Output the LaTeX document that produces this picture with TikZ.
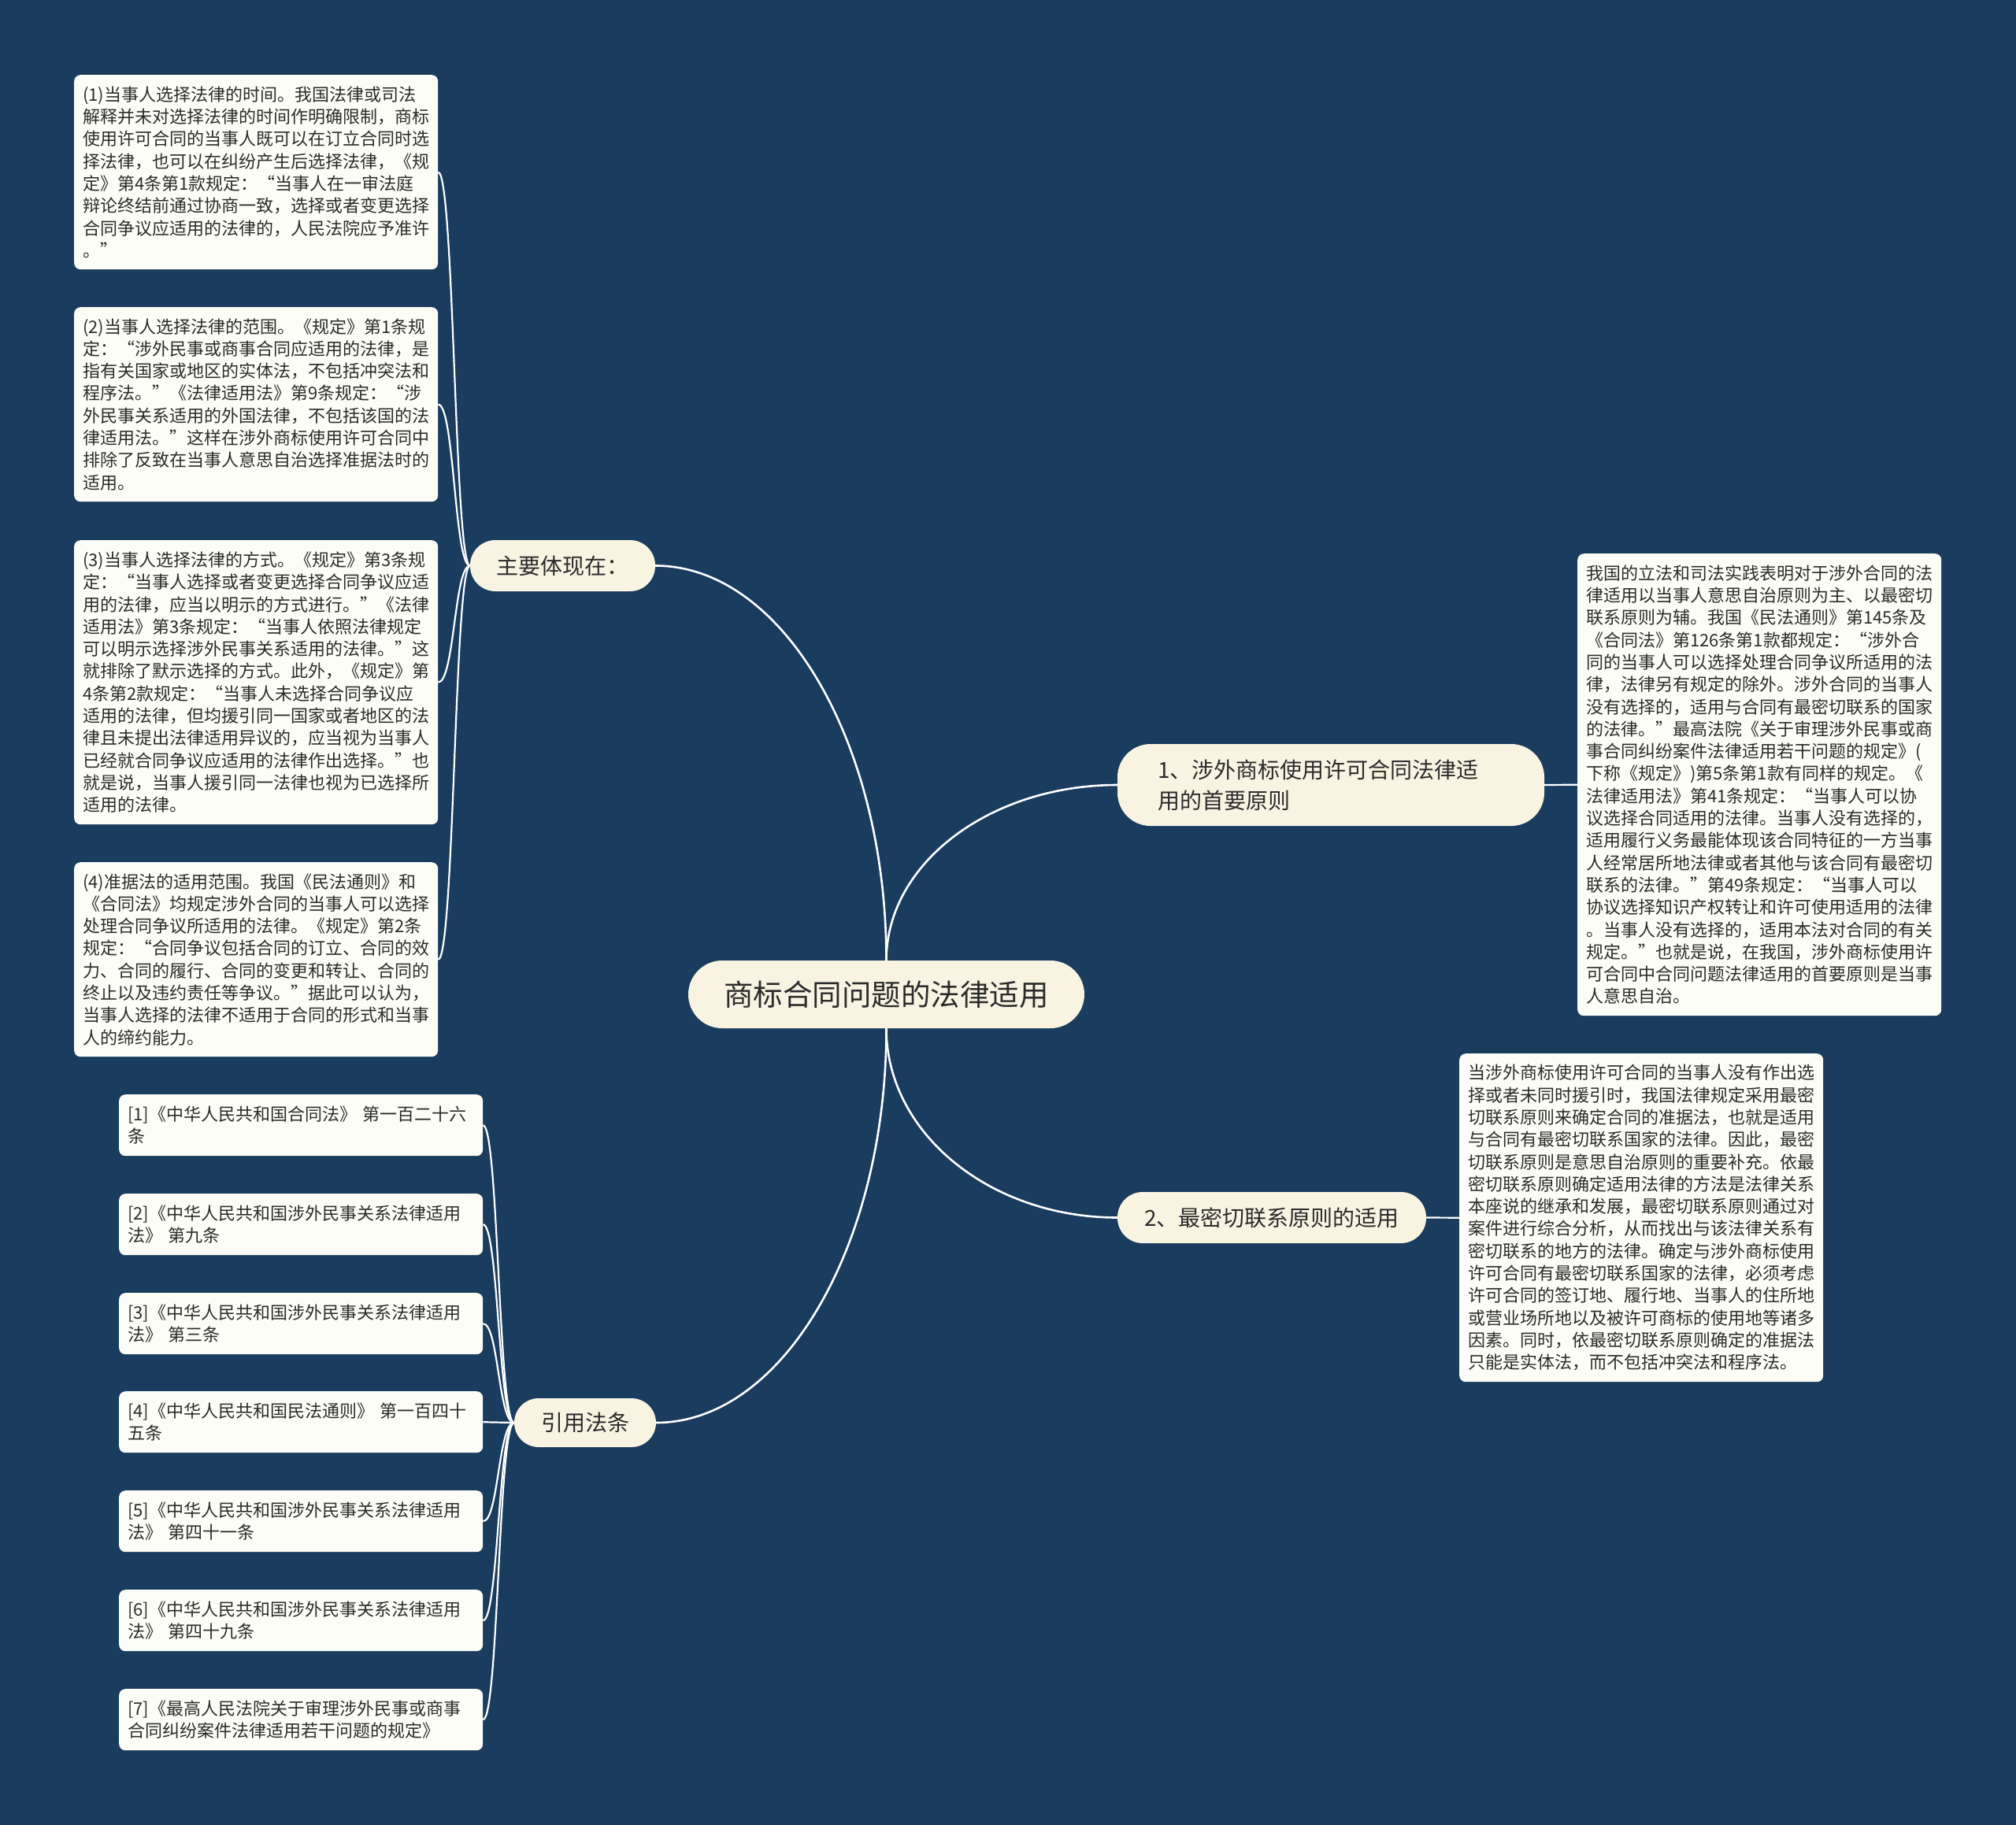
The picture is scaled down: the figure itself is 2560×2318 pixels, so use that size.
\documentclass[tikz,border=0pt]{standalone}
\usepackage{fontspec}
\setmainfont{Noto Sans CJK SC}
\definecolor{bgc}{HTML}{1A3C5E}
\definecolor{pillc}{HTML}{F9F4E2}
\definecolor{boxc}{HTML}{FDFDF7}
\definecolor{txtc}{HTML}{2B2B2B}
\tikzset{
  leafbox/.style={fill=boxc, rounded corners=8pt, anchor=north west, align=left,
    text width=440pt, inner xsep=11pt, inner ysep=0pt, text=txtc,
    font=\fontsize{22}{28.3}\selectfont},
  pill/.style={fill=pillc, inner sep=0pt, text=txtc, anchor=center},
  mainconn/.style={draw=white, line width=2.6pt},
  subconn/.style={draw=white, line width=2.2pt},
}
\begin{document}
\begin{tikzpicture}[x=1pt,y=-1pt]
\fill[bgc] (0,0) rectangle (2560,2318);
\useasboundingbox (0,0) rectangle (2560,2318);

% central and branch nodes
\node[pill, minimum width=503pt, minimum height=86pt, rounded corners=43pt,
  font=\fontsize{37.5}{45}\selectfont] (main) at (1125.5,1263) {商标合同问题的法律适用};
\node[pill, minimum width=235pt, minimum height=65pt, rounded corners=32pt,
  font=\fontsize{28}{36}\selectfont] (z) at (714.5,718.5) {主要体现在：};
\node[pill, minimum width=180pt, minimum height=62pt, rounded corners=31pt,
  font=\fontsize{28}{36}\selectfont] (y) at (743,1807) {引用法条};
\node[pill, minimum width=542pt, minimum height=104pt, rounded corners=42pt,
  text width=440pt, inner xsep=51pt, align=left,
  font=\fontsize{28}{39}\selectfont] (b1) at (1690,997) {1、涉外商标使用许可合同法律适\\用的首要原则};
\node[pill, minimum width=392pt, minimum height=65pt, rounded corners=32pt,
  font=\fontsize{28}{36}\selectfont] (b2) at (1615,1546.5) {2、最密切联系原则的适用};

% left detail boxes
\node[leafbox, minimum height=247pt] (L1) at (94,95) {(1)当事人选择法律的时间。我国法律或司法\\解释并未对选择法律的时间作明确限制，商标\\使用许可合同的当事人既可以在订立合同时选\\择法律，也可以在纠纷产生后选择法律，《规\\定》第4条第1款规定：“当事人在一审法庭\\辩论终结前通过协商一致，选择或者变更选择\\合同争议应适用的法律的，人民法院应予准许\\。”};
\node[leafbox, minimum height=247pt] (L2) at (94,390) {(2)当事人选择法律的范围。《规定》第1条规\\定：“涉外民事或商事合同应适用的法律，是\\指有关国家或地区的实体法，不包括冲突法和\\程序法。”《法律适用法》第9条规定：“涉\\外民事关系适用的外国法律，不包括该国的法\\律适用法。”这样在涉外商标使用许可合同中\\排除了反致在当事人意思自治选择准据法时的\\适用。};
\node[leafbox, minimum height=361pt] (L3) at (94,686) {(3)当事人选择法律的方式。《规定》第3条规\\定：“当事人选择或者变更选择合同争议应适\\用的法律，应当以明示的方式进行。”《法律\\适用法》第3条规定：“当事人依照法律规定\\可以明示选择涉外民事关系适用的法律。”这\\就排除了默示选择的方式。此外，《规定》第\\4条第2款规定：“当事人未选择合同争议应\\适用的法律，但均援引同一国家或者地区的法\\律且未提出法律适用异议的，应当视为当事人\\已经就合同争议应适用的法律作出选择。”也\\就是说，当事人援引同一法律也视为已选择所\\适用的法律。};
\node[leafbox, minimum height=247pt] (L4) at (94,1095) {(4)准据法的适用范围。我国《民法通则》和\\《合同法》均规定涉外合同的当事人可以选择\\处理合同争议所适用的法律。《规定》第2条\\规定：“合同争议包括合同的订立、合同的效\\力、合同的履行、合同的变更和转让、合同的\\终止以及违约责任等争议。”据此可以认为，\\当事人选择的法律不适用于合同的形式和当事\\人的缔约能力。};

% citation boxes
\node[leafbox, minimum height=78pt] (c1) at (151,1390) {[1]《中华人民共和国合同法》 第一百二十六\\条};
\node[leafbox, minimum height=78pt] (c2) at (151,1516) {[2]《中华人民共和国涉外民事关系法律适用\\法》 第九条};
\node[leafbox, minimum height=78pt] (c3) at (151,1642) {[3]《中华人民共和国涉外民事关系法律适用\\法》 第三条};
\node[leafbox, minimum height=78pt] (c4) at (151,1767) {[4]《中华人民共和国民法通则》 第一百四十\\五条};
\node[leafbox, minimum height=78pt] (c5) at (151,1893) {[5]《中华人民共和国涉外民事关系法律适用\\法》 第四十一条};
\node[leafbox, minimum height=78pt] (c6) at (151,2019) {[6]《中华人民共和国涉外民事关系法律适用\\法》 第四十九条};
\node[leafbox, minimum height=78pt] (c7) at (151,2145) {[7]《最高人民法院关于审理涉外民事或商事\\合同纠纷案件法律适用若干问题的规定》};

% right detail boxes
\node[leafbox, minimum height=587pt] (r1) at (2003,703) {我国的立法和司法实践表明对于涉外合同的法\\律适用以当事人意思自治原则为主、以最密切\\联系原则为辅。我国《民法通则》第145条及\\《合同法》第126条第1款都规定：“涉外合\\同的当事人可以选择处理合同争议所适用的法\\律，法律另有规定的除外。涉外合同的当事人\\没有选择的，适用与合同有最密切联系的国家\\的法律。”最高法院《关于审理涉外民事或商\\事合同纠纷案件法律适用若干问题的规定》(\\下称《规定》)第5条第1款有同样的规定。《\\法律适用法》第41条规定：“当事人可以协\\议选择合同适用的法律。当事人没有选择的，\\适用履行义务最能体现该合同特征的一方当事\\人经常居所地法律或者其他与该合同有最密切\\联系的法律。”第49条规定：“当事人可以\\协议选择知识产权转让和许可使用适用的法律\\。当事人没有选择的，适用本法对合同的有关\\规定。”也就是说，在我国，涉外商标使用许\\可合同中合同问题法律适用的首要原则是当事\\人意思自治。};
\node[leafbox, minimum height=417pt] (r2) at (1853,1338) {当涉外商标使用许可合同的当事人没有作出选\\择或者未同时援引时，我国法律规定采用最密\\切联系原则来确定合同的准据法，也就是适用\\与合同有最密切联系国家的法律。因此，最密\\切联系原则是意思自治原则的重要补充。依最\\密切联系原则确定适用法律的方法是法律关系\\本座说的继承和发展，最密切联系原则通过对\\案件进行综合分析，从而找出与该法律关系有\\密切联系的地方的法律。确定与涉外商标使用\\许可合同有最密切联系国家的法律，必须考虑\\许可合同的签订地、履行地、当事人的住所地\\或营业场所地以及被许可商标的使用地等诸多\\因素。同时，依最密切联系原则确定的准据法\\只能是实体法，而不包括冲突法和程序法。};

% main connectors
\draw[mainconn] (main.north) .. controls (1125.5,944) and (994,718.5) .. (z.east);
\draw[mainconn] (main.north) .. controls (1125.5,1096) and (1258,997) .. (b1.west);
\draw[mainconn] (main.south) .. controls (1125.5,1439) and (1257,1546.5) .. (b2.west);
\draw[mainconn] (main.south) .. controls (1125.5,1582) and (994,1807) .. (y.east);

\draw[subconn] (b1.east) -- (r1.west);
\draw[subconn] (b2.east) -- (r2.west);

\foreach \n/\m in {L1/218.5, L2/513.5, L3/866.5, L4/1218.5}
  \draw[subconn] (z.west) .. controls (577,718.5) and (577,\m) .. (\n.east);
\foreach \n/\m in {c1/1429, c2/1555, c3/1681, c4/1806, c5/1932, c6/2058, c7/2184}
  \draw[subconn] (y.west) .. controls (633,1807) and (633,\m) .. (\n.east);
\end{tikzpicture}
\end{document}
